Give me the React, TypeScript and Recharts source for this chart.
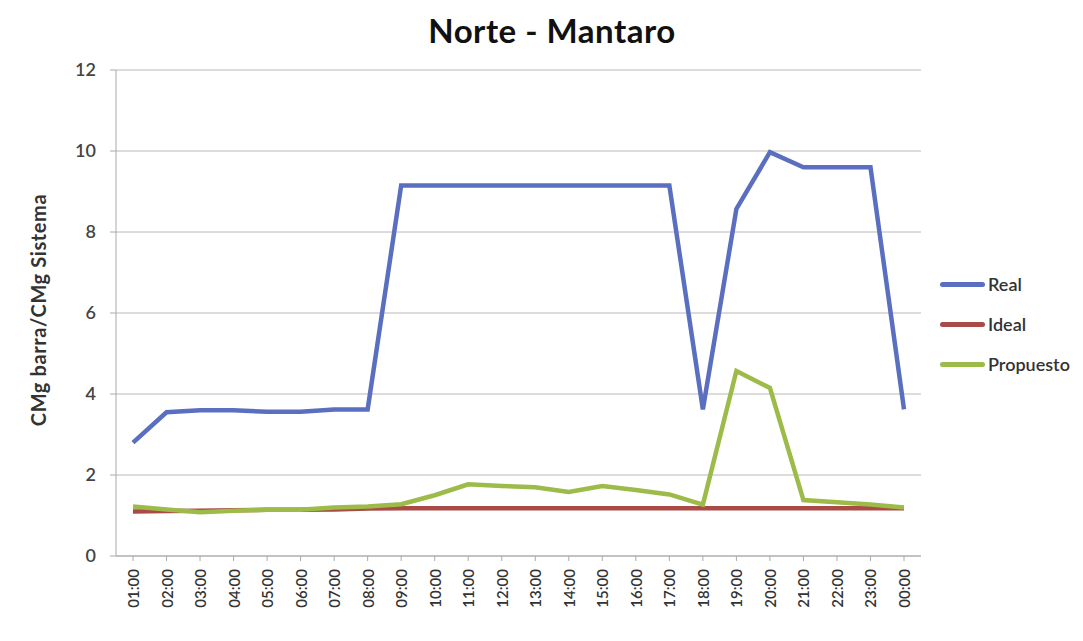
import { LineChart, Line, XAxis, YAxis, CartesianGrid } from 'recharts';

const hours = [
  '01:00', '02:00', '03:00', '04:00', '05:00', '06:00', '07:00', '08:00',
  '09:00', '10:00', '11:00', '12:00', '13:00', '14:00', '15:00', '16:00',
  '17:00', '18:00', '19:00', '20:00', '21:00', '22:00', '23:00', '00:00',
];

const real = [
  2.8, 3.55, 3.6, 3.6, 3.56, 3.56, 3.62, 3.62,
  9.15, 9.15, 9.15, 9.15, 9.15, 9.15, 9.15, 9.15,
  9.15, 3.62, 8.57, 9.97, 9.6, 9.6, 9.6, 3.62,
];

const ideal = [
  1.1, 1.11, 1.12, 1.13, 1.14, 1.14, 1.15, 1.17,
  1.18, 1.18, 1.18, 1.18, 1.18, 1.18, 1.18, 1.18,
  1.18, 1.18, 1.18, 1.18, 1.18, 1.18, 1.18, 1.18,
];

const propuesto = [
  1.22, 1.15, 1.08, 1.12, 1.14, 1.14, 1.2, 1.22,
  1.28, 1.5, 1.77, 1.73, 1.7, 1.58, 1.73, 1.63,
  1.52, 1.27, 4.57, 4.15, 1.38, 1.33, 1.27, 1.2,
];

const seriesNames = ['Real', 'Ideal', 'Propuesto'];
const seriesColors = ['#5a6fbf', '#a94b47', '#9cbb48'];
const yTicks = [0, 2, 4, 6, 8, 10, 12];

const data = hours.map((h, i) => ({
  hour: h,
  Real: real[i],
  Ideal: ideal[i],
  Propuesto: propuesto[i],
}));

const FONT = 'Lato, "Open Sans", sans-serif';

const HourTick = ({ x, y, payload }: any) => (
  <text
    x={0}
    y={0}
    transform={`translate(${x + 6},${y + 6}) rotate(-90)`}
    textAnchor="end"
    fontSize={15}
    fontWeight={600}
    fill="#333"
    fontFamily={FONT}
  >
    {payload.value}
  </text>
);

export default function App() {
  return (
    <div
      style={{
        margin: -8,
        width: 1081,
        height: 639,
        border: '1px solid #d4d4d4',
        position: 'relative',
        background: '#fff',
      }}
    >
      <div
        style={{
          position: 'absolute',
          top: 9,
          left: 0,
          width: 1102,
          textAlign: 'center',
          fontFamily: FONT,
          fontWeight: 'bold',
          fontSize: 33,
          letterSpacing: 0.5,
          color: '#111',
        }}
      >
        Norte - Mantaro
      </div>
      <div
        style={{
          position: 'absolute',
          left: 37,
          top: 309,
          transform: 'translate(-50%, -50%) rotate(-90deg)',
          fontFamily: FONT,
          fontWeight: 'bold',
          fontSize: 20,
          letterSpacing: 0.6,
          color: '#333',
          whiteSpace: 'nowrap',
        }}
      >
        CMg barra/CMg Sistema
      </div>
      <div
        style={{
          position: 'absolute',
          left: 939,
          top: 263,
          fontFamily: FONT,
          fontSize: 18,
          fontWeight: 600,
          color: '#333',
        }}
      >
        {seriesNames.map((name, i) => (
          <div key={name} style={{ display: 'flex', alignItems: 'center', height: 40 }}>
            <span
              style={{
                display: 'inline-block',
                width: 45,
                height: 5,
                borderRadius: 3,
                background: seriesColors[i],
                marginRight: 3,
              }}
            />
            <span>{name}</span>
          </div>
        ))}
      </div>
      <LineChart
        width={1081}
        height={639}
        data={data}
        margin={{ top: 69, right: 161, bottom: 24, left: 55 }}
      >
        <CartesianGrid vertical={false} stroke="#b8b8b8" />
        <XAxis
          dataKey="hour"
          interval={0}
          tick={<HourTick />}
          stroke="#aaa"
          tickSize={5}
          height={60}
          padding={{ left: 17, right: 17 }}
        />
        <YAxis
          domain={[0, 12]}
          ticks={yTicks}
          width={60}
          stroke="#aaa"
          tickSize={6}
          tick={{ fontSize: 18, fontWeight: 600, fill: '#444', fontFamily: FONT, dx: -12 }}
        />
        {seriesNames.map((name, i) => (
          <Line
            key={name}
            dataKey={name}
            stroke={seriesColors[i]}
            strokeWidth={4.5}
            dot={false}
            isAnimationActive={false}
          />
        ))}
      </LineChart>
    </div>
  );
}
